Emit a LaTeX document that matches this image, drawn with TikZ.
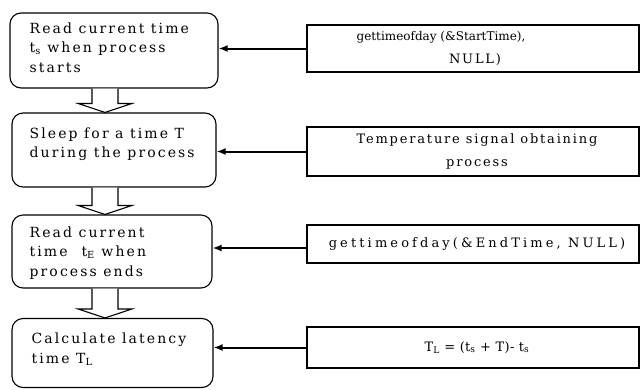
\documentclass[tikz,border=0pt]{standalone}
\usepackage{fontspec}
\setmainfont{DejaVu Serif}[LetterSpace=15]
\usetikzlibrary{calc,arrows.meta}
\begin{document}
\begin{tikzpicture}[x=1pt,y=-1pt,
  stepbox/.style={draw, rounded corners=11pt, line width=1.1pt, inner sep=0pt},
  steptext/.style={anchor=north west, align=left, inner sep=0pt,
    font=\fontsize{14}{19.5}\selectfont},
  databox/.style={draw, line width=1.1pt, minimum width=332pt, inner sep=0pt,
    align=center, font=\fontsize{13}{22.5}\selectfont\addfontfeature{LetterSpace=14}},
  feed/.style={line width=2pt, -{Latex[length=9pt,width=7pt]}},
  hollowarrow/.style={draw, fill=white, line width=1.1pt, line join=miter}]
\useasboundingbox (0,0) rectangle (641,389);

% process steps (left column)
\node[stepbox, minimum width=208pt, minimum height=75pt] (b1) at (114,50.5) {};
\node[stepbox, minimum width=204pt, minimum height=74pt] (b2) at (114,150) {};
\node[stepbox, minimum width=200pt, minimum height=73pt] (b3) at (112,251.5) {};
\node[stepbox, minimum width=201pt, minimum height=69pt] (b4) at (112.5,353) {};

\node[steptext] (t1) at ($(b1.north west)+(20,10)$) {Read current time\\ t\textsubscript{s} when process\\ starts};
\node[steptext] (t2) at ($(b2.north west)+(18,15)$) {Sleep for a time T\\ during the process};
\node[steptext] (t3) at ($(b3.north west)+(18,12)$) {Read current\\ time\quad t\textsubscript{E} when\\ process ends};
\node[steptext] (t4) at ($(b4.north west)+(20,15)$) {Calculate latency\\ time T\textsubscript{L}};

% implementation details (right column)
\node[databox, minimum height=47pt] (r1) at (473,48.5)
  {{\fontsize{12}{22.5}\selectfont\addfontfeature{LetterSpace=0}gettimeofday (\&StartTime),}\hspace*{64pt}\\ \hspace*{4pt}NULL)};
\node[databox, minimum height=49pt] (r2) at (473,151.5) {\hspace*{8pt}Temperature signal obtaining\\ \hspace*{8pt}process};
\node[databox, minimum height=38pt] (r3) at (473,244) {\hspace*{8pt}\addfontfeature{LetterSpace=24}gettimeofday(\&EndTime, NULL)};
\node[databox, minimum height=41pt] (r4) at (473,347.5)
  {\hspace*{8pt}\addfontfeature{LetterSpace=3}T\textsubscript{L} = (t\textsubscript{s} + T)- t\textsubscript{s}};

% feeds from the right column into the steps
\draw[feed] (r1.west) -- (r1.west -| b1.east);
\draw[feed] (r2.west) -- (r2.west -| b2.east);
\draw[feed] ([yshift=-4pt]r3.west) coordinate (r3in) -- (r3in -| b3.east);
\draw[feed] (r4.west) -- (r4.west -| b4.east);

% hollow block arrows between the steps
\coordinate (ax) at (105,0);
\foreach \u/\v in {b1/b2, b2/b3, b3/b4}{
  \draw[hollowarrow]
    ($(ax |- \u.south)+(-13,0)$) -- ($(ax |- \v.north)+(-13,-9)$) -- ++(-14,0)
    -- (ax |- \v.north) -- ($(ax |- \v.north)+(27,-9)$) -- ++(-14,0)
    -- ($(ax |- \u.south)+(13,0)$);
}
\end{tikzpicture}
\end{document}
